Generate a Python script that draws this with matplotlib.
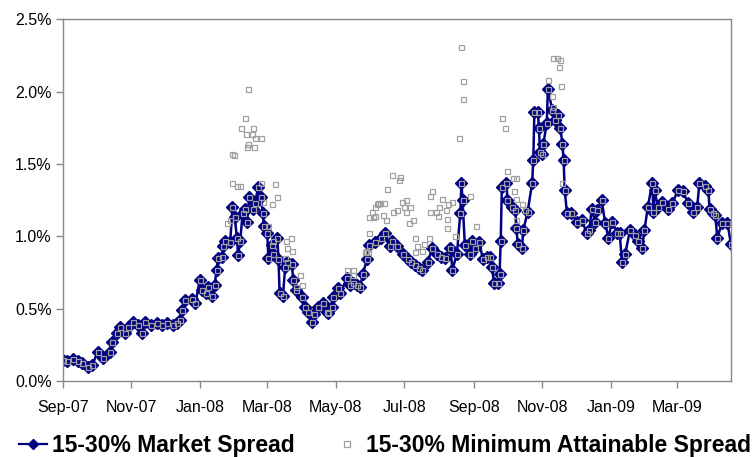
import pandas as pd
import matplotlib
matplotlib.use("Agg")
import matplotlib.pyplot as plt
import matplotlib.dates as mdates
from matplotlib.lines import Line2D
from matplotlib.ticker import PercentFormatter

plt.rcParams["font.family"] = ["Liberation Sans", "DejaVu Sans"]

start_date = "2007-09-01"
end_day = 595

# 15-30% market spread (%), days after start_date
market_days = [
    0, 4, 9, 13, 17, 22, 26, 31, 36, 42,
    44, 48, 51, 55, 58, 62, 67, 70, 73, 78,
    84, 88, 93, 98, 102, 104, 106, 109, 115, 118,
    122, 124, 127, 129, 133, 135, 137, 138, 142, 143,
    144, 149, 151, 153, 155, 156, 158, 160, 162, 164,
    166, 169, 171, 174, 176, 178, 179, 182, 183, 186,
    187, 191, 192, 193, 196, 198, 200, 204, 205, 208,
    213, 216, 218, 222, 224, 227, 232, 235, 236, 240,
    241, 245, 247, 253, 256, 258, 262, 265, 267, 271,
    273, 278, 283, 287, 291, 293, 298, 303, 307, 310,
    314, 317, 320, 325, 329, 333, 337, 340, 345, 347,
    351, 354, 355, 356, 358, 363, 364, 367, 371, 374,
    378, 380, 382, 384, 388, 389, 390, 391, 395, 396,
    400, 403, 404, 405, 409, 410, 414, 418, 419, 420,
    423, 424, 425, 427, 428, 431, 432, 436, 438, 441,
    443, 445, 446, 447, 449, 453, 458, 462, 467, 469,
    471, 474, 476, 480, 483, 486, 489, 494, 496, 498,
    501, 505, 510, 512, 516, 518, 521, 525, 526, 527,
    530, 534, 539, 543, 548, 552, 557, 561, 565, 567,
    572, 575, 576, 579, 581, 583, 587, 592, 595,
]
market_spread = [
    0.145, 0.14, 0.15, 0.14, 0.125, 0.10, 0.11, 0.20, 0.16, 0.20,
    0.27, 0.33, 0.37, 0.33, 0.37, 0.41, 0.39, 0.33, 0.41, 0.39,
    0.40, 0.39, 0.40, 0.39, 0.40, 0.42, 0.49, 0.56, 0.57, 0.54,
    0.70, 0.63, 0.61, 0.65, 0.59, 0.66, 0.77, 0.85, 0.86, 0.93,
    0.97, 0.96, 1.20, 1.13, 0.99, 0.87, 0.97, 1.16, 1.19, 1.10,
    1.27, 1.19, 1.23, 1.34, 1.27, 1.16, 1.07, 1.02, 0.85, 0.94,
    0.88, 0.99, 0.84, 0.61, 0.59, 0.79, 0.82, 0.81, 0.70, 0.63,
    0.58, 0.51, 0.48, 0.41, 0.46, 0.51, 0.54, 0.48, 0.47, 0.51,
    0.58, 0.64, 0.61, 0.71, 0.66, 0.68, 0.66, 0.65, 0.74, 0.84,
    0.94, 0.96, 0.99, 1.02, 0.93, 0.97, 0.93, 0.88, 0.84, 0.82,
    0.80, 0.78, 0.77, 0.82, 0.92, 0.88, 0.86, 0.85, 0.92, 0.77,
    0.88, 1.16, 1.37, 1.25, 0.94, 0.88, 0.97, 0.92, 0.96, 0.84,
    0.86, 0.86, 0.79, 0.68, 0.68, 0.74, 0.97, 1.34, 1.37, 1.25,
    1.20, 1.18, 1.06, 0.95, 0.92, 1.04, 1.17, 1.37, 1.53, 1.86,
    1.86, 1.75, 1.58, 1.57, 1.64, 1.78, 2.02, 1.87, 1.80, 1.84,
    1.75, 1.64, 1.53, 1.32, 1.16, 1.16, 1.10, 1.11, 1.02, 1.04,
    1.19, 1.10, 1.18, 1.25, 1.09, 0.99, 1.10, 1.02, 1.02, 0.82,
    0.88, 1.04, 1.01, 0.97, 0.92, 1.04, 1.20, 1.37, 1.17, 1.32,
    1.20, 1.24, 1.19, 1.23, 1.32, 1.31, 1.23, 1.17, 1.20, 1.37,
    1.35, 1.32, 1.19, 1.16, 1.15, 0.99, 1.09, 1.09, 0.95,
]

# minimum attainable spread where it sits above the market spread
min_days = [
    146, 149, 151, 151, 152, 155, 158, 159, 162, 163,
    164, 165, 165, 168, 169, 170, 171, 176, 176, 178,
    183, 186, 187, 189, 191, 198, 199, 200, 203, 204,
    208, 211, 213,
    253, 258, 258, 269, 270, 272, 273, 273, 275, 276,
    278, 278, 280, 281, 282, 285, 286, 288, 289, 293,
    294, 298, 299, 300, 302, 304, 306, 306, 308, 309,
    312, 314, 314, 315, 320, 322, 326, 327, 327, 329,
    332, 334, 335, 338, 341, 342, 342, 343, 347, 349,
    353, 355, 356, 356, 363, 368,
    391, 394, 396, 401, 402, 404, 404, 404, 409, 412,
    432, 436, 437, 437, 440, 442, 443, 444, 445,
]
min_spread = [
    1.09, 1.11, 1.57, 1.37, 1.56, 1.35, 1.35, 1.75, 1.82, 1.71,
    1.62, 2.02, 1.64, 1.71, 1.75, 1.62, 1.68, 1.68, 1.37, 1.24,
    1.07, 1.22, 0.97, 1.36, 1.27, 0.85, 0.97, 0.92, 0.99, 0.90,
    0.65, 0.73, 0.66,
    0.77, 0.77, 0.73, 0.89, 0.90, 0.89, 1.02, 1.13, 1.17, 1.13,
    1.20, 1.14, 1.22, 1.23, 1.23, 1.15, 1.23, 1.11, 1.33, 1.42,
    1.17, 1.18, 1.39, 1.41, 1.24, 1.20, 1.25, 1.17, 1.09, 1.20,
    1.11, 0.99, 0.89, 0.93, 0.90, 0.95, 0.99, 1.28, 1.17, 1.31,
    1.17, 1.14, 1.20, 1.26, 1.18, 1.12, 1.06, 1.22, 1.24, 1.00,
    1.68, 2.31, 2.07, 1.95, 1.28, 1.07,
    1.82, 1.75, 1.45, 1.40, 1.31, 1.40, 1.26, 1.11, 1.22, 1.18,
    2.08, 1.97, 1.89, 2.23, 2.23, 2.17, 2.22, 2.04, 1.37,
]

y_ticks = [0.0, 0.5, 1.0, 1.5, 2.0, 2.5]

navy = "#000080"
gray = "#a0a0a0"
axis_gray = "#888888"

base = pd.Timestamp(start_date)
market_dates = base + pd.to_timedelta(market_days, unit="D")
min_dates = base + pd.to_timedelta(min_days, unit="D")

fig = plt.figure(figsize=(7.55, 4.57), dpi=100)
ax = fig.add_axes([0.0834, 0.1663, 0.8846, 0.7917])

ax.plot(market_dates, market_spread, color=navy, linewidth=1.8,
        marker="D", markersize=6.5, markerfacecolor=navy,
        markeredgecolor=navy, zorder=2)
# squares sit on every market point plus the ones above it
ax.plot(market_dates, market_spread, linestyle="none", marker="s",
        markersize=3.6, markerfacecolor="none", markeredgecolor=gray,
        markeredgewidth=0.9, zorder=3)
ax.plot(min_dates, min_spread, linestyle="none", marker="s",
        markersize=3.6, markerfacecolor="none", markeredgecolor=gray,
        markeredgewidth=0.9, zorder=3)

ax.set_xlim(base, base + pd.Timedelta(days=end_day))
ax.set_ylim(0, 2.5)
ax.set_yticks(y_ticks)
ax.yaxis.set_major_formatter(PercentFormatter(xmax=100, decimals=1))
ax.xaxis.set_major_locator(mdates.MonthLocator(bymonth=[1, 3, 5, 7, 9, 11]))
ax.xaxis.set_major_formatter(mdates.DateFormatter("%b-%y"))

for side in ["left", "right", "top", "bottom"]:
    ax.spines[side].set_color(axis_gray)
    ax.spines[side].set_linewidth(1.0)
ax.tick_params(axis="both", direction="out", length=5, width=1.0,
               color=axis_gray, labelsize=11.5, labelcolor="black")
ax.tick_params(axis="x", pad=9)
ax.tick_params(axis="y", pad=3)

handles = [
    Line2D([], [], color=navy, linewidth=1.6, marker="D", markersize=5,
           markerfacecolor=navy, markeredgecolor=navy),
    Line2D([], [], linestyle="none", marker="s", markersize=4,
           markerfacecolor="none", markeredgecolor=gray, markeredgewidth=0.9),
]
labels = ["15-30% Market Spread", "15-30% Minimum Attainable Spread"]
fig.legend(handles, labels, loc="lower center", bbox_to_anchor=(0.51, -0.045),
           ncol=2, frameon=False, prop={"size": 16.5, "weight": "bold"},
           handlelength=1.22, handletextpad=0.22, columnspacing=1.66)

fig.savefig("out.png", dpi=100)
